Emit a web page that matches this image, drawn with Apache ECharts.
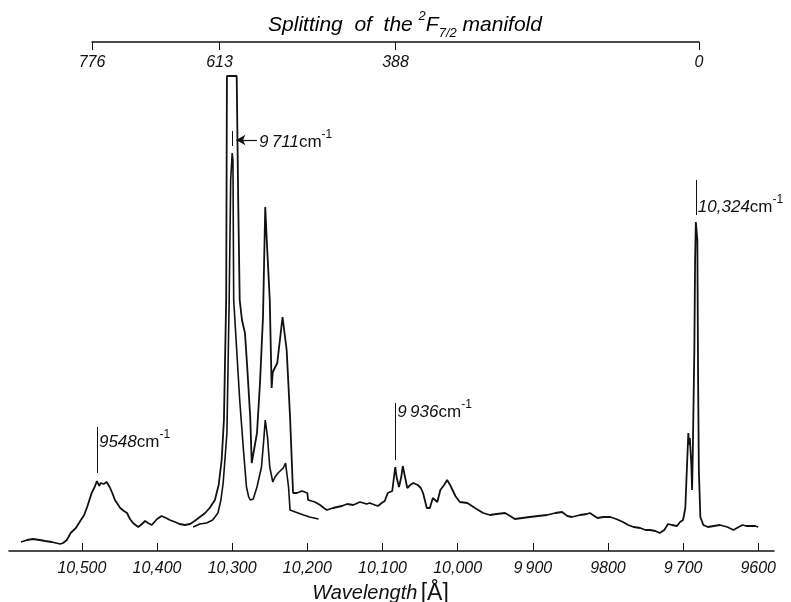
<!DOCTYPE html>
<html>
<head>
<meta charset="utf-8">
<script src="https://cdn.jsdelivr.net/npm/echarts@6/dist/echarts.min.js"></script>
<style>
  html, body { margin: 0; padding: 0; background: #fff; }
  #chart { width: 791px; height: 602px; }
</style>
</head>
<body>
<div id="chart"></div>
<script>
// long scan: [wavelength (Å), relative intensity]
const spectrumA = [
  [10581, 9], [10573, 11], [10565, 12], [10556, 11], [10549, 10], [10540, 9], [10529, 7], [10525, 8],
  [10520, 11], [10515, 18], [10508, 23], [10503, 29], [10497, 36], [10493, 44], [10487, 58], [10483, 64],
  [10480, 70], [10477, 65], [10475, 68], [10471, 67], [10467, 69], [10463, 64], [10459, 57], [10456, 51],
  [10449, 43], [10444, 40], [10440, 38], [10436, 32], [10432, 28], [10425, 24], [10420, 27], [10416, 30],
  [10412, 28], [10407, 26], [10400, 32], [10394, 35], [10388, 33], [10383, 31], [10376, 29], [10370, 27],
  [10363, 26], [10356, 27], [10350, 30], [10343, 34], [10336, 38], [10330, 43], [10323, 51], [10318, 66],
  [10314, 91], [10311, 131], [10310, 171], [10308, 251], [10307, 475], [10294, 475], [10292, 351], [10290, 251],
  [10287, 231], [10283, 218], [10280, 184], [10276, 134], [10274, 88], [10272, 86], [10267, 118], [10263, 168],
  [10259, 234], [10256, 344], [10254, 311], [10250, 251], [10247.5, 163], [10246, 179], [10240, 188], [10238, 189],
  [10233, 234], [10227.5, 201], [10223, 134], [10219, 58], [10214, 58], [10207, 60], [10200, 58], [10199, 51],
  [10190, 49], [10183, 46], [10178, 43], [10174, 41], [10166, 43], [10160, 44], [10154, 45], [10147, 47],
  [10139, 46], [10130, 49], [10121, 47], [10117, 48], [10110, 46], [10106, 45], [10101, 48], [10097, 50],
  [10093, 58], [10087, 60], [10083, 84], [10081, 73], [10078, 64], [10075, 74], [10073, 85], [10070, 74],
  [10067, 63], [10063, 66], [10059, 68], [10053, 66], [10049, 63], [10046, 58], [10043, 49], [10041, 43],
  [10037, 43], [10033, 53], [10030, 51], [10027, 49], [10023, 61], [10018, 66], [10014, 71], [10010, 66],
  [10003, 55], [9997, 49], [9987, 48], [9977, 43], [9966, 38], [9957, 36], [9948, 37], [9937, 38],
  [9930, 35], [9924, 32], [9914, 33], [9904, 34], [9893, 35], [9881, 36], [9870, 38], [9861, 39],
  [9854, 35], [9848, 34], [9837, 36], [9828, 37], [9824, 38], [9818, 35], [9814, 33], [9806, 34],
  [9797, 34], [9789, 32], [9780, 29], [9773, 26], [9766, 24], [9757, 23], [9750, 21], [9744, 21],
  [9737, 20], [9731, 18], [9725, 21], [9720, 27], [9715, 26], [9708, 25], [9704, 29], [9700, 31],
  [9697, 43], [9695, 81], [9693, 118], [9692, 106], [9691, 113], [9689, 86], [9688, 61], [9687, 101],
  [9685, 201], [9684, 291], [9683, 329], [9681, 311], [9680, 171], [9679, 81], [9677, 34], [9673, 26],
  [9667, 24], [9659, 25], [9651, 26], [9641, 24], [9633, 21], [9626, 24], [9621, 26], [9616, 25],
  [9611, 25], [9604, 25], [9600, 24]
];

// short scan over the strong group
const spectrumB = [
  [10352, 24], [10343, 27], [10334, 28], [10326, 31], [10319, 38], [10315, 51], [10312, 68], [10307, 118],
  [10304, 251], [10302, 371], [10300, 398], [10299, 391], [10298, 251], [10294, 201], [10290, 151], [10285, 101],
  [10281, 64], [10278, 54], [10276, 51], [10272, 52], [10267, 64], [10261, 84], [10258, 111], [10256, 131], [10253, 114],
  [10250, 84], [10246, 69], [10243, 74], [10239, 78], [10232, 83], [10229, 88], [10225, 64], [10223, 41],
  [10216, 39], [10205, 36], [10197, 34], [10185, 32]
];

const wavelengthTicks = [10500, 10400, 10300, 10200, 10100, 10000, 9900, 9800, 9700, 9600];
const wavelengthLabels = ['10,500', '10,400', '10,300', '10,200', '10,100', '10,000', '9\u2009900', '9800', '9\u2009700', '9600'];
const splittingTicks = [776, 613, 388, 0];

// line markers above peaks
const markerNumbers = ['9548', '9\u2009936', '10,324'];
const markerWavelength = [10480, 10083, 9683];
const markerBottom = [78, 91, 336];
const markerTop = [124, 148, 371];
const markerTextLevel = [111, 141, 346];

// arrow marker at the 9711 cm-1 peak
const arrowNumber = '9\u2009711';
const arrowFrom = [10267, 411];
const arrowTo = [10294.5, 411];
const bracketLine = [[10300, 405], [10300, 420]];

const FONT = 'Liberation Sans';
const INK = '#111';

const richText = {
  n: { fontFamily: FONT, fontStyle: 'italic', fontSize: 17, color: INK, lineHeight: 22, verticalAlign: 'bottom' },
  u: { fontFamily: FONT, fontSize: 17, color: INK, lineHeight: 22, verticalAlign: 'bottom' },
  s: { fontFamily: FONT, fontSize: 12, color: INK, lineHeight: 22, verticalAlign: 'top' }
};
const cmLabel = num => '{n|' + num + '}{u|cm}{s|-1}';

const chart = echarts.init(document.getElementById('chart'));

const markerTextData = markerNumbers.map((num, i) => ({ value: [markerWavelength[i], markerTextLevel[i]], num }));
markerTextData.push({ value: arrowFrom, num: arrowNumber });

chart.setOption({
  animation: false,
  backgroundColor: '#fff',
  grid: [
    { left: 9, right: 17, top: 70, bottom: 51, outerBoundsMode: 'none' },
    { left: 92, right: 92, top: 41, height: 1, outerBoundsMode: 'none' }
  ],
  graphic: [{
    type: 'text',
    x: 405,
    y: 25,
    style: {
      text: '{t|Splitting  of  the }{p|2}{t|F}{b|7/2}{t| manifold}',
      align: 'center',
      verticalAlign: 'middle',
      rich: {
        t: { fontFamily: FONT, fontStyle: 'italic', fontSize: 21, color: INK, lineHeight: 30, verticalAlign: 'middle' },
        p: { fontFamily: FONT, fontStyle: 'italic', fontSize: 13, color: INK, lineHeight: 30, verticalAlign: 'top' },
        b: { fontFamily: FONT, fontStyle: 'italic', fontSize: 13, color: INK, lineHeight: 30, verticalAlign: 'bottom' }
      }
    }
  }],
  xAxis: [{
    type: 'value',
    gridIndex: 0,
    inverse: true,
    min: 9579,
    max: 10597,
    splitLine: { show: false },
    axisLine: { lineStyle: { color: INK, width: 1.5 } },
    axisTick: { inside: true, length: 8, customValues: wavelengthTicks, lineStyle: { color: INK, width: 1 } },
    axisLabel: {
      customValues: wavelengthTicks,
      margin: 10,
      fontFamily: FONT,
      fontStyle: 'italic',
      fontSize: 16,
      color: INK,
      formatter: v => wavelengthLabels[wavelengthTicks.indexOf(v)]
    },
    name: '{w|Wavelength} {a|[Å]}',
    nameLocation: 'middle',
    nameGap: 28,
    nameTextStyle: {
      padding: [0, 22, 0, 0],
      rich: {
        w: { fontFamily: FONT, fontStyle: 'italic', fontSize: 20, color: INK },
        a: { fontFamily: FONT, fontSize: 23, color: INK }
      }
    }
  }, {
    type: 'value',
    gridIndex: 1,
    inverse: true,
    min: 0,
    max: 776,
    splitLine: { show: false },
    axisLine: { lineStyle: { color: INK, width: 1.5 } },
    axisTick: { length: 8, customValues: splittingTicks, lineStyle: { color: INK, width: 1 } },
    axisLabel: {
      customValues: splittingTicks,
      margin: 13,
      fontFamily: FONT,
      fontStyle: 'italic',
      fontSize: 16,
      color: INK
    }
  }],
  yAxis: [
    { type: 'value', gridIndex: 0, min: 0, max: 481, show: false },
    { type: 'value', gridIndex: 1, min: 0, max: 1, show: false }
  ],
  series: [{
    name: 'scan A',
    type: 'line',
    data: spectrumA,
    showSymbol: false,
    lineStyle: { color: INK, width: 1.8 },
    markLine: {
      silent: true,
      symbol: 'none',
      label: { show: false },
      lineStyle: { color: INK, width: 1, type: 'solid' },
      data: markerWavelength.map((w, i) => [{ coord: [w, markerBottom[i]] }, { coord: [w, markerTop[i]] }])
        .concat([[{ coord: bracketLine[0] }, { coord: bracketLine[1] }]])
    }
  }, {
    name: 'scan B',
    type: 'line',
    data: spectrumB,
    showSymbol: false,
    lineStyle: { color: INK, width: 1.6 },
    markLine: {
      silent: true,
      symbol: ['none', 'arrow'],
      symbolSize: [8, 9],
      label: { show: false },
      lineStyle: { color: INK, width: 1.2, type: 'solid' },
      data: [[{ coord: arrowFrom }, { coord: arrowTo }]]
    }
  }, {
    name: 'labels',
    type: 'scatter',
    symbolSize: 0,
    silent: true,
    itemStyle: { opacity: 1, color: INK },
    data: markerTextData,
    label: {
      show: true,
      position: 'right',
      distance: 2,
      color: INK,
      opacity: 1,
      formatter: p => cmLabel(p.data.num),
      rich: richText
    }
  }]
});
</script>
</body>
</html>
